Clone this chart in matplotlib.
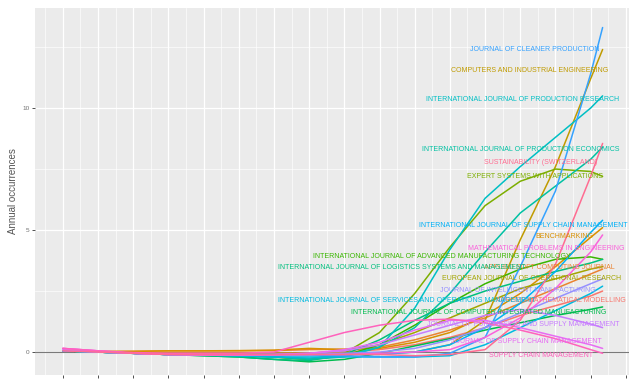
import matplotlib
matplotlib.use("Agg")
import matplotlib.pyplot as plt
from matplotlib.ticker import MultipleLocator, NullFormatter, FixedLocator

# ---------------- data ----------------
x = [0, 1, 2, 3, 4, 5, 6, 7, 8, 9, 10, 11, 12, 13, 14, 15, 15.34]

journals = [
    "APPLIED MATHEMATICAL MODELLING",
    "APPLIED SOFT COMPUTING JOURNAL",
    "BENCHMARKING",
    "COMPUTERS AND INDUSTRIAL ENGINEERING",
    "EUROPEAN JOURNAL OF OPERATIONAL RESEARCH",
    "EXPERT SYSTEMS WITH APPLICATIONS",
    "INTERNATIONAL JOURNAL OF ADVANCED MANUFACTURING TECHNOLOGY",
    "INTERNATIONAL JOURNAL OF COMPUTER INTEGRATED MANUFACTURING",
    "INTERNATIONAL JOURNAL OF LOGISTICS SYSTEMS AND MANAGEMENT",
    "INTERNATIONAL JOURNAL OF PRODUCTION ECONOMICS",
    "INTERNATIONAL JOURNAL OF PRODUCTION RESEARCH",
    "INTERNATIONAL JOURNAL OF SERVICES AND OPERATIONS MANAGEMENT",
    "INTERNATIONAL JOURNAL OF SUPPLY CHAIN MANAGEMENT",
    "JOURNAL OF CLEANER PRODUCTION",
    "JOURNAL OF INTELLIGENT MANUFACTURING",
    "JOURNAL OF PURCHASING AND SUPPLY MANAGEMENT",
    "JOURNAL OF SUPPLY CHAIN MANAGEMENT",
    "MATHEMATICAL PROBLEMS IN ENGINEERING",
    "SUPPLY CHAIN MANAGEMENT",
    "SUSTAINABILITY (SWITZERLAND)",
]

amm   = [0.05, 0.0, -0.03, -0.05, -0.05, -0.05, -0.05, -0.05, 0.0, 0.1, 0.3, 0.6, 1.0, 1.5, 1.9, 2.3, 2.5]
asc   = [0.05, 0.02, 0.03, 0.05, 0.05, 0.05, 0.06, 0.1, 0.12, 0.2, 0.5, 0.9, 1.4, 2.0, 2.6, 3.2, 3.4]
bench = [0.05, 0.02, 0.03, 0.05, 0.05, 0.06, 0.08, 0.15, 0.1, 0.15, 0.4, 0.8, 1.5, 2.4, 3.5, 4.7, 5.1]
cie   = [0.05, 0.0, -0.03, -0.05, -0.05, -0.05, -0.05, -0.05, -0.05, -0.05, 0.0, 0.3, 1.3, 4.6, 7.6, 11.2, 12.4]
ejor  = [0.05, 0.0, -0.05, -0.08, -0.1, -0.1, -0.1, -0.05, 0.05, 0.3, 0.8, 1.4, 2.0, 2.6, 3.0, 3.4, 3.5]
eswa  = [0.05, 0.0, -0.05, -0.1, -0.1, -0.12, -0.2, -0.3, -0.05, 0.8, 2.4, 4.3, 6.0, 7.0, 7.5, 7.4, 7.2]
ijamt = [0.05, 0.0, -0.05, -0.1, -0.12, -0.15, -0.2, -0.3, -0.15, 0.3, 1.1, 2.0, 2.8, 3.4, 3.8, 3.9, 3.8]
ijcim = [0.05, 0.0, -0.05, -0.1, -0.15, -0.2, -0.3, -0.4, -0.3, -0.05, 0.25, 0.55, 0.9, 1.2, 1.5, 1.75, 1.85]
ijlsm = [0.05, 0.0, -0.05, -0.1, -0.15, -0.2, -0.3, -0.35, -0.1, 0.5, 1.3, 2.0, 2.5, 2.9, 3.3, 3.65, 3.8]
ijpe  = [0.05, 0.0, -0.05, -0.1, -0.12, -0.15, -0.2, -0.3, -0.2, 0.2, 1.0, 2.4, 4.1, 5.7, 6.8, 7.9, 8.4]
ijpr  = [0.05, 0.0, -0.05, -0.1, -0.12, -0.15, -0.2, -0.25, -0.15, 0.2, 1.8, 4.2, 6.3, 7.6, 8.8, 10.0, 10.5]
ijsom = [0.05, 0.0, -0.05, -0.1, -0.12, -0.15, -0.2, -0.2, -0.2, -0.2, -0.2, -0.15, 0.3, 1.0, 1.7, 2.4, 2.7]
ijscm = [0.05, 0.0, -0.05, -0.1, -0.1, -0.1, -0.1, -0.1, -0.1, -0.1, 0.0, 0.3, 1.0, 2.0, 3.3, 4.9, 5.4]
jcp   = [0.05, 0.0, -0.05, -0.1, -0.12, -0.12, -0.12, -0.12, -0.15, -0.2, -0.2, -0.05, 0.6, 3.5, 6.6, 11.4, 13.3]
jim   = [0.05, 0.0, -0.05, -0.1, -0.1, -0.1, -0.1, -0.1, -0.05, 0.0, 0.15, 0.5, 1.0, 1.6, 2.2, 2.8, 3.0]
jpsm  = [0.1, 0.0, -0.05, -0.1, -0.1, -0.1, -0.1, -0.05, 0.05, 0.3, 0.7, 1.1, 1.5, 1.75, 1.5, 1.15, 1.0]
jscm  = [0.15, 0.05, -0.05, -0.1, -0.12, -0.12, -0.1, -0.05, 0.1, 0.4, 0.9, 1.3, 1.3, 1.0, 0.65, 0.3, 0.15]
mpe   = [0.15, 0.05, -0.05, -0.1, -0.12, -0.12, -0.12, -0.1, -0.1, -0.05, 0.0, 0.1, 0.6, 1.4, 2.6, 4.1, 4.8]
scm   = [0.15, 0.05, -0.02, -0.05, -0.05, -0.05, 0.0, 0.4, 0.8, 1.1, 1.3, 1.35, 1.2, 0.9, 0.55, 0.1, -0.05]
sust  = [0.05, 0.0, -0.05, -0.1, -0.1, -0.1, -0.1, -0.1, -0.1, -0.1, -0.15, -0.1, 0.1, 1.3, 3.6, 7.2, 8.55]

series = [amm, asc, bench, cie, ejor, eswa, ijamt, ijcim, ijlsm, ijpe,
          ijpr, ijsom, ijscm, jcp, jim, jpsm, jscm, mpe, scm, sust]

y_ticks = [0, 5, 10]
y_tick_labels = ["0", "5", "10"]

# ---------------- styles / layout ----------------
colors = ["#F8766D", "#EA8331", "#D89000", "#C09B00", "#A3A500", "#7CAE00",
          "#39B600", "#00BB4E", "#00BF7D", "#00C1A3", "#00BFC4", "#00BAE0",
          "#00B0F6", "#35A2FF", "#9590FF", "#C77CFF", "#E76BF3", "#FA62DB",
          "#FF62BC", "#FF6C91"]

# label anchors (x, y, horizontal alignment)
label_anchor = [
    (16.00, 2.10, "right"),
    (15.69, 3.47, "right"),
    (15.07, 4.73, "right"),
    (15.49, 11.53, "right"),
    (10.77, 3.02, "left"),
    (15.35, 7.18, "right"),
    (7.11, 3.93, "left"),
    (8.19, 1.61, "left"),
    (6.12, 3.46, "left"),
    (10.20, 8.31, "left"),
    (10.32, 10.33, "left"),
    (6.12, 2.10, "left"),
    (10.12, 5.20, "left"),
    (15.26, 12.38, "right"),
    (10.72, 2.54, "left"),
    (10.35, 1.15, "left"),
    (15.32, 0.45, "right"),
    (15.97, 4.25, "right"),
    (15.07, -0.15, "right"),
    (15.18, 7.77, "right"),
]

plt.rcParams["font.family"] = ["Liberation Sans", "DejaVu Sans"]

W, H = 629, 381
fig = plt.figure(figsize=(W / 100, H / 100), dpi=100)
fig.patch.set_facecolor("white")
ax = fig.add_axes([35 / W, 1 - 375 / H, (W - 35) / W, (375 - 8) / H])
ax.set_facecolor("#EBEBEB")

ax.set_xlim(-0.79, 16.09)
ax.set_ylim(-0.94, 14.1)

# grid
ax.xaxis.set_major_locator(MultipleLocator(1))
ax.xaxis.set_minor_locator(MultipleLocator(0.5))
ax.yaxis.set_major_locator(FixedLocator(y_ticks))
ax.yaxis.set_minor_locator(FixedLocator([2.5, 7.5, 12.5]))
ax.grid(which="major", color="white", linewidth=0.9)
ax.grid(which="minor", color="white", linewidth=0.45)
ax.set_axisbelow(True)

for s in ax.spines.values():
    s.set_visible(False)

ax.xaxis.set_major_formatter(NullFormatter())
ax.set_yticklabels(y_tick_labels)
ax.tick_params(axis="both", which="major", length=2.5, width=0.6,
               color="#333333", labelsize=4.6, labelcolor="#707070", pad=1.5)
ax.tick_params(axis="both", which="minor", length=0)
ax.set_ylabel("Annual occurrences", fontsize=7, color="#555555", labelpad=3)

ax.axhline(0, color="#7a7a7a", linewidth=0.8, zorder=1.5)

for yv, c in zip(series, colors):
    ax.plot(x, yv, color=c, linewidth=1.1, solid_capstyle="round",
            solid_joinstyle="round", zorder=2)

for name, c, (lx, ly, ha) in zip(journals, colors, label_anchor):
    ax.text(lx, ly, name, color=c, fontsize=5.0, ha=ha, va="center",
            zorder=3, clip_on=False)

fig.savefig("out.png", dpi=100)
